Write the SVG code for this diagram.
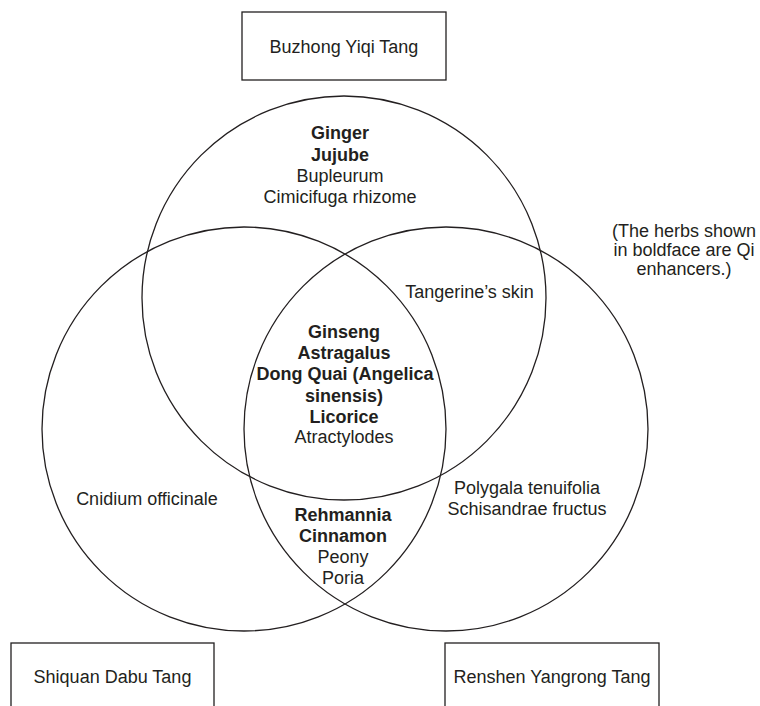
<svg xmlns="http://www.w3.org/2000/svg" width="760" height="706" viewBox="0 0 760 706">
<style>
.c{fill:none;stroke:#231f20;stroke-width:1.3}
.b{fill:#fff;stroke:#231f20;stroke-width:1.3}
text{font-family:"Liberation Sans",Arial,sans-serif;font-size:18px;fill:#231f20;text-anchor:middle}
.bd{font-weight:bold}
</style>
<rect width="760" height="706" fill="#fff"/>
<g id="connectors">
<circle id="c-buzhong" class="c" cx="344" cy="298" r="202"/>
<circle id="c-shiquan" class="c" cx="244" cy="429" r="202"/>
<circle id="c-renshen" class="c" cx="446" cy="429" r="202"/>
</g>
<g id="buzhong">
<rect class="b" x="242" y="12" width="204" height="68"/>
<text x="344" y="53">Buzhong Yiqi Tang</text>
</g>
<g id="shiquan">
<rect class="b" x="11" y="643" width="203" height="80"/>
<text x="112.5" y="683">Shiquan Dabu Tang</text>
</g>
<g id="renshen">
<rect class="b" x="445" y="643" width="214" height="80"/>
<text x="552" y="683">Renshen Yangrong Tang</text>
</g>
<g id="buzhong-only">
<text class="bd" x="340" y="139">Ginger</text>
<text class="bd" x="340" y="160.5">Jujube</text>
<text x="340" y="182">Bupleurum</text>
<text x="340" y="203">Cimicifuga rhizome</text>
</g>
<g id="buzhong-renshen">
<text x="469.5" y="298">Tangerine’s skin</text>
</g>
<g id="all-three">
<text class="bd" x="344" y="338">Ginseng</text>
<text class="bd" x="344" y="359">Astragalus</text>
<text class="bd" x="345" y="380">Dong Quai (Angelica</text>
<text class="bd" x="344" y="401.5">sinensis)</text>
<text class="bd" x="344" y="422.5">Licorice</text>
<text x="344" y="443">Atractylodes</text>
</g>
<g id="shiquan-only">
<text x="147" y="505">Cnidium officinale</text>
</g>
<g id="shiquan-renshen">
<text class="bd" x="343" y="521">Rehmannia</text>
<text class="bd" x="343" y="542">Cinnamon</text>
<text x="343" y="563">Peony</text>
<text x="343" y="584">Poria</text>
</g>
<g id="renshen-only">
<text x="527" y="494">Polygala tenuifolia</text>
<text x="527" y="515">Schisandrae fructus</text>
</g>
<g id="note">
<text x="684" y="237">(The herbs shown</text>
<text x="684" y="256">in boldface are Qi</text>
<text x="684" y="275">enhancers.)</text>
</g>
</svg>
